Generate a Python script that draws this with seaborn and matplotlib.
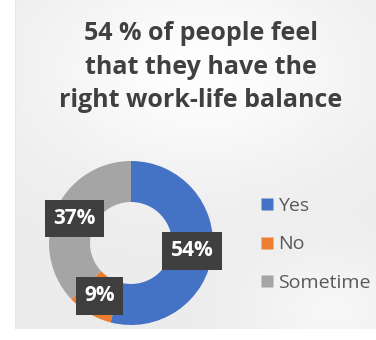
import numpy as np
import matplotlib
matplotlib.use("Agg")
import matplotlib.pyplot as plt
import seaborn as sns

# Survey answers
categories = ["Yes", "No", "Sometime"]
shares = [54, 9, 37]
title_lines = ["54 % of people feel", "that they have the", "right work-life balance"]

sns.set_theme(style="white")
plt.rcParams["font.family"] = ["Open Sans", "DejaVu Sans"]

colors = ["#4472C4", "#ED7D31", "#A5A5A5"]

W, H = 376, 340
fig = plt.figure(figsize=(W / 100, H / 100), dpi=100)
fig.patch.set_facecolor("white")

# Card background: light grey with a soft white glow
bg = fig.add_axes([0, 0, 1, 1])
yy, xx = np.mgrid[0:H, 0:W]
glow = np.exp(-(((xx - 200) / 170.0) ** 2 + ((yy - 70) / 110.0) ** 2))
glow2 = np.exp(-(((xx - 330) / 90.0) ** 2 + ((yy - 310) / 60.0) ** 2))
shade = 0.925 + 0.07 * np.clip(glow + 0.6 * glow2, 0, 1)
card = (xx >= 15) & (yy <= 328)
img = np.where(card, shade, 1.0)
bg.imshow(np.dstack([img, img, img]), extent=[0, W, H, 0], aspect="auto")
bg.plot([15, 15], [0, 328], color="#e6e6e6", lw=0.8)
bg.set_xlim(0, W)
bg.set_ylim(H, 0)
bg.axis("off")

for i, line in enumerate(title_lines):
    fig.text(201 / W, 1 - (34 + i * 33) / H, line, ha="center", va="center",
             fontsize=18, fontweight="bold", color="#404040")

# Donut
cx, cy, r = 131, 243, 82
ax = fig.add_axes([(cx - r) / W, (H - cy - r) / H, 2 * r / W, 2 * r / H])
wedges, _, autotexts = ax.pie(
    shares, colors=colors, startangle=90, counterclock=False,
    wedgeprops=dict(width=0.5, edgecolor="none"),
    autopct=lambda p: f"{p:.0f}%", pctdistance=0.75,
    textprops=dict(color="white", fontsize=15, fontweight="bold"),
)
for t in autotexts:
    t.set_bbox(dict(boxstyle="square,pad=0.4", facecolor="#3f3f3f", edgecolor="none"))
ax.set_xlim(-1, 1)
ax.set_ylim(-1, 1)
ax.set_aspect("equal")
ax.axis("off")

handles = [plt.Line2D([], [], marker="s", linestyle="none", markersize=9,
                      markerfacecolor=c, markeredgecolor="none") for c in colors]
leg = fig.legend(handles, categories, loc="upper left",
                 bbox_to_anchor=(258 / W, 1 - 197 / H), frameon=False,
                 fontsize=14, labelspacing=1.05, handletextpad=0.15,
                 handlelength=0.9, borderaxespad=0, borderpad=0)
for t in leg.get_texts():
    t.set_color("#595959")

fig.savefig("out.png", dpi=100)
